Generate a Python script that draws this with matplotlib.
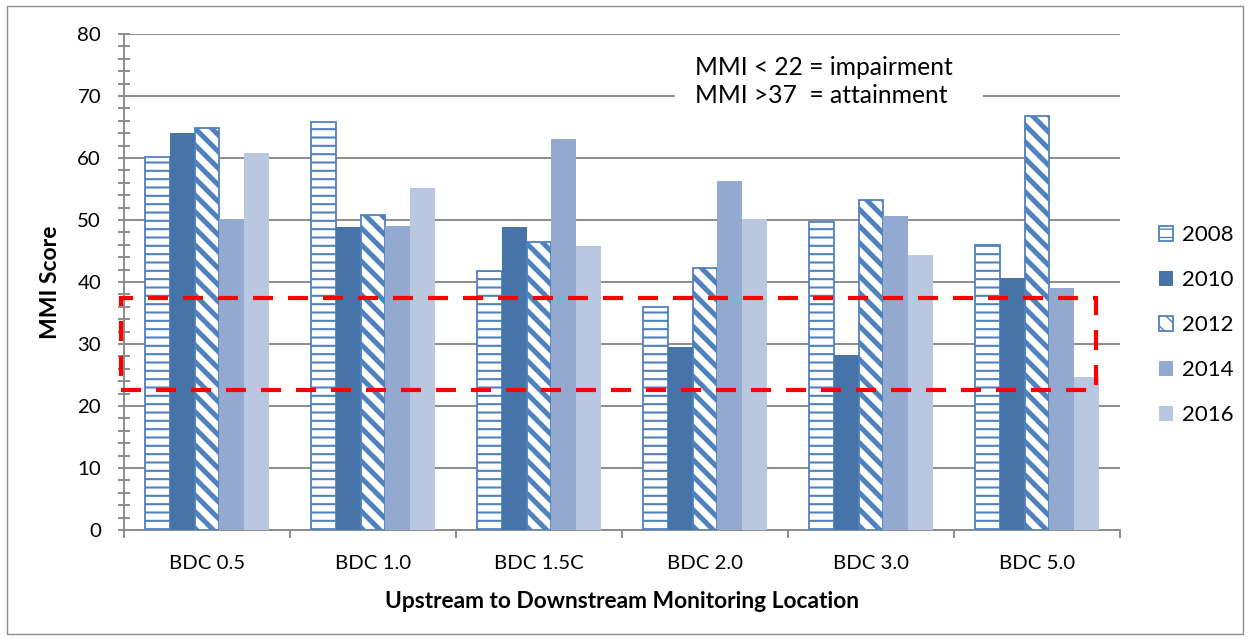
import matplotlib.pyplot as plt
import matplotlib.patches as mpatches
import matplotlib.transforms as mtransforms
import numpy as np

plt.rcParams['font.family'] = ['Lato', 'DejaVu Sans']

locations = ['BDC 0.5', 'BDC 1.0', 'BDC 1.5C', 'BDC 2.0', 'BDC 3.0', 'BDC 5.0']
years = ['2008', '2010', '2012', '2014', '2016']
mmi_2008 = [60.1, 65.8, 41.8, 36.0, 49.6, 45.9]
mmi_2010 = [64.1, 48.8, 48.9, 29.5, 28.2, 40.7]
mmi_2012 = [64.8, 50.8, 46.5, 42.2, 53.2, 66.8]
mmi_2014 = [50.1, 49.1, 63.1, 56.3, 50.6, 39.1]
mmi_2016 = [60.8, 55.2, 45.8, 50.1, 44.4, 24.7]
impairment = 22.6
attainment = 37.4

blue = '#4F81BD'
styles = [
    dict(facecolor='white', edgecolor=blue, hatch='--', linewidth=1.3, hlw=1.5),
    dict(facecolor='#4673A8', edgecolor='#4673A8', hatch=None, linewidth=0, hlw=1.0),
    dict(facecolor='white', edgecolor=blue, hatch='\\\\', linewidth=1.3, hlw=3.6),
    dict(facecolor='#94A9D0', edgecolor='#94A9D0', hatch=None, linewidth=0, hlw=1.0),
    dict(facecolor='#BAC7E0', edgecolor='#BAC7E0', hatch=None, linewidth=0, hlw=1.0),
]
series = [mmi_2008, mmi_2010, mmi_2012, mmi_2014, mmi_2016]

fig = plt.figure(figsize=(12.5, 6.39), dpi=100)
ax = fig.add_axes([0.0992, 0.1706, 0.7968, 0.7762])

x = np.arange(len(locations))
w = 0.15
handles = []
for i, (vals, st) in enumerate(zip(series, styles)):
    with plt.rc_context({'hatch.linewidth': st['hlw']}):
        ax.bar(x + (i - 2) * w, vals, width=w, facecolor=st['facecolor'],
               edgecolor=st['edgecolor'], hatch=st['hatch'],
               linewidth=st['linewidth'], zorder=3)
        handles.append(mpatches.Patch(facecolor=st['facecolor'], edgecolor=st['edgecolor'],
                                      hatch=st['hatch'], linewidth=st['linewidth'] or 0,
                                      label=years[i]))

ax.set_xlim(-0.5, 5.5)
ax.set_ylim(0, 80)
ax.set_yticks(np.arange(0, 81, 10))
ax.set_yticks(np.arange(0, 81, 2), minor=True)
ax.yaxis.grid(True, color='#8C8C8C', linewidth=1.4)
ax.set_axisbelow(True)

ax.set_xticks(np.arange(-0.5, 5.6, 1))
ax.set_xticklabels([])
ax.set_xticks(x, minor=True)
ax.set_xticklabels(locations, minor=True)
ax.tick_params(axis='x', which='major', direction='out', length=6, color='#8C8C8C', width=1.4)
ax.tick_params(axis='x', which='minor', length=0, pad=18, labelsize=14.7)
ax.tick_params(axis='y', which='both', direction='inout', length=9, color='#8C8C8C',
               width=1.4, labelsize=14.7, pad=12)
for s in ['top', 'right']:
    ax.spines[s].set_visible(False)
for s in ['left', 'bottom']:
    ax.spines[s].set_color('#8C8C8C')
    ax.spines[s].set_linewidth(1.4)

ax.set_ylabel('MMI Score', fontsize=16.5, fontweight='bold', labelpad=12)
ax.set_xlabel('Upstream to Downstream Monitoring Location', fontsize=16.4,
              fontweight='bold', labelpad=14)

# red dashed box marking the band between impairment and attainment
trans = mtransforms.blended_transform_factory(ax.transAxes, ax.transData)
band = mpatches.Rectangle((-0.003, impairment), 0.979, attainment - impairment,
                          transform=trans, fill=False, edgecolor='red', linewidth=3,
                          linestyle=(0, (4.8, 3.6)), clip_on=False, zorder=5)
ax.add_patch(band)

# white panel behind the threshold note
ax.add_patch(mpatches.Rectangle((0.553, 67.5), 0.309, 11, transform=trans,
                                facecolor='white', edgecolor='none', zorder=2))
ax.text(0.573, 72.3, 'MMI < 22 = impairment\nMMI >37  = attainment', transform=trans,
        fontsize=17.7, va='center', ha='left', linespacing=1.25, zorder=4)

ax.legend(handles=handles, loc='center left', bbox_to_anchor=(1.03, 0.413), frameon=False,
          fontsize=16, handlelength=0.65, handleheight=0.65, handletextpad=0.4,
          labelspacing=1.12, borderaxespad=0)

fig.patches.append(mpatches.Rectangle((7 / 1250, 5 / 639), 1236 / 1250, 628 / 639,
                                      transform=fig.transFigure, fill=False,
                                      edgecolor='#8C8C8C', linewidth=1))

fig.savefig('out.png', dpi=100)
